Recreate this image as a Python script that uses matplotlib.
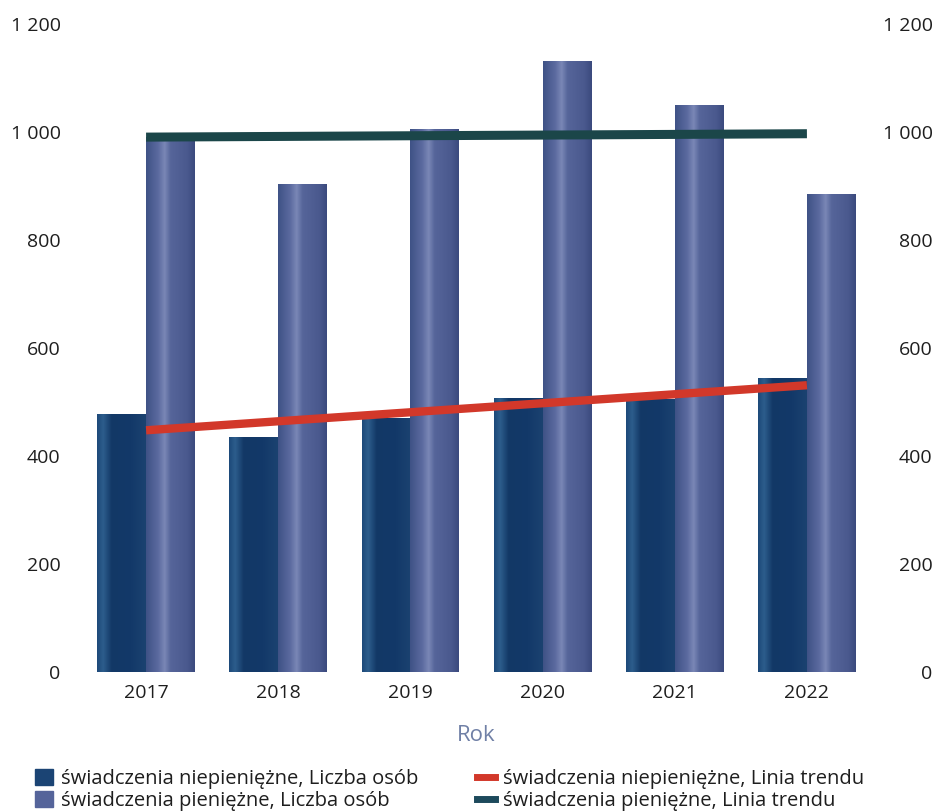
import numpy as np
import matplotlib
matplotlib.use('Agg')
import matplotlib.pyplot as plt
from matplotlib.colors import LinearSegmentedColormap
from matplotlib.patches import Patch
from matplotlib.lines import Line2D

plt.rcParams['font.family'] = ['Open Sans', 'DejaVu Sans']

years = ["2017", "2018", "2019", "2020", "2021", "2022"]
niepieniezne = [476, 435, 470, 507, 504, 544]
pieniezne = [990, 902, 1005, 1130, 1050, 885]
y_ticks = [0, 200, 400, 600, 800, 1000, 1200]

COLOR_NIEP = "#173f6c"
COLOR_PIEN = "#4b5a8f"
COLOR_TREND_NIEP = "#d2382a"
COLOR_TREND_PIEN = "#1b4649"
TEXT_COLOR = "#1e1e1e"

# horizontal shading of the bars (scan looks like a cylinder-ish gradient)
cmap_niep = LinearSegmentedColormap.from_list("niep", [
    (0.0, "#1d4a7a"), (0.12, "#2d5d8c"), (0.3, "#123866"), (0.7, "#133969"), (1.0, "#1b4270")])
cmap_pien = LinearSegmentedColormap.from_list("pien", [
    (0.0, "#3f5286"), (0.25, "#5c6ba0"), (0.38, "#7a87b6"), (0.5, "#56659a"), (0.85, "#4a598e"), (1.0, "#3b4a7e")])


def fmt(v):
    return f"{v:,}".replace(",", " ")


def trend(values):
    x = np.arange(len(values))
    a, b = np.polyfit(x, values, 1)
    return a * x + b


def shade_bars(ax, bars, cmap):
    grad = np.linspace(0, 1, 64)[np.newaxis, :]
    for b in bars:
        x0, w, h = b.get_x(), b.get_width(), b.get_height()
        ax.imshow(grad, cmap=cmap, extent=[x0, x0 + w, 0, h], aspect='auto',
                  interpolation='bilinear', zorder=2)
        b.set_visible(False)


def main():
    fig = plt.figure(figsize=(9.43, 8.11), dpi=100)
    ax = fig.add_axes([80 / 943, 1 - 672 / 811, 793 / 943, 648 / 811])

    x = np.arange(len(years))
    w = 0.37
    bars1 = ax.bar(x - w / 2, niepieniezne, width=w, color=COLOR_NIEP, zorder=2)
    bars2 = ax.bar(x + w / 2, pieniezne, width=w, color=COLOR_PIEN, zorder=2)
    shade_bars(ax, bars1, cmap_niep)
    shade_bars(ax, bars2, cmap_pien)

    ax.plot(x, trend(niepieniezne), color=COLOR_TREND_NIEP, lw=6, solid_capstyle='butt', zorder=3)
    ax.plot(x, trend(pieniezne), color=COLOR_TREND_PIEN, lw=6.5, solid_capstyle='butt', zorder=3)

    ax.set_xlim(-0.5, len(years) - 0.5)
    ax.set_ylim(0, 1200)
    for s in ax.spines.values():
        s.set_visible(False)

    ax.set_xticks(x)
    ax.set_xticklabels(years, fontsize=14, color=TEXT_COLOR, fontweight='medium')
    ax.set_yticks(y_ticks)
    ax.set_yticklabels([fmt(v) for v in y_ticks], fontsize=14, color=TEXT_COLOR, fontweight='medium')
    ax.tick_params(axis='x', length=0, pad=9)
    ax.tick_params(axis='y', length=0, pad=14)

    ax2 = ax.twinx()
    ax2.set_ylim(0, 1200)
    for s in ax2.spines.values():
        s.set_visible(False)
    ax2.set_yticks(y_ticks)
    ax2.set_yticklabels([fmt(v) for v in y_ticks], fontsize=14, color=TEXT_COLOR,
                        fontweight='medium', ha='right')
    ax2.tick_params(axis='y', length=0, pad=43)

    ax.set_xlabel("Rok", fontsize=16, color="#7080a6", labelpad=16)

    handles = [
        Patch(color="#1b4474"),
        Patch(color="#55649a"),
        Line2D([], [], color=COLOR_TREND_NIEP, lw=5),
        Line2D([], [], color="#1d4a5c", lw=5),
    ]
    labels = [
        "świadczenia niepieniężne, Liczba osób",
        "świadczenia pieniężne, Liczba osób",
        "świadczenia niepieniężne, Linia trendu",
        "świadczenia pieniężne, Linia trendu",
    ]
    fig.legend(handles, labels, ncol=2, loc='upper left', bbox_to_anchor=(35 / 943, 1 - 769 / 811),
               frameon=False, fontsize=14.5, handlelength=0.9, handleheight=0.85, handletextpad=0.4,
               labelspacing=0.1, columnspacing=2.9, borderpad=0, borderaxespad=0,
               labelcolor=TEXT_COLOR)

    fig.savefig("out.png", dpi=100)


if __name__ == "__main__":
    main()
